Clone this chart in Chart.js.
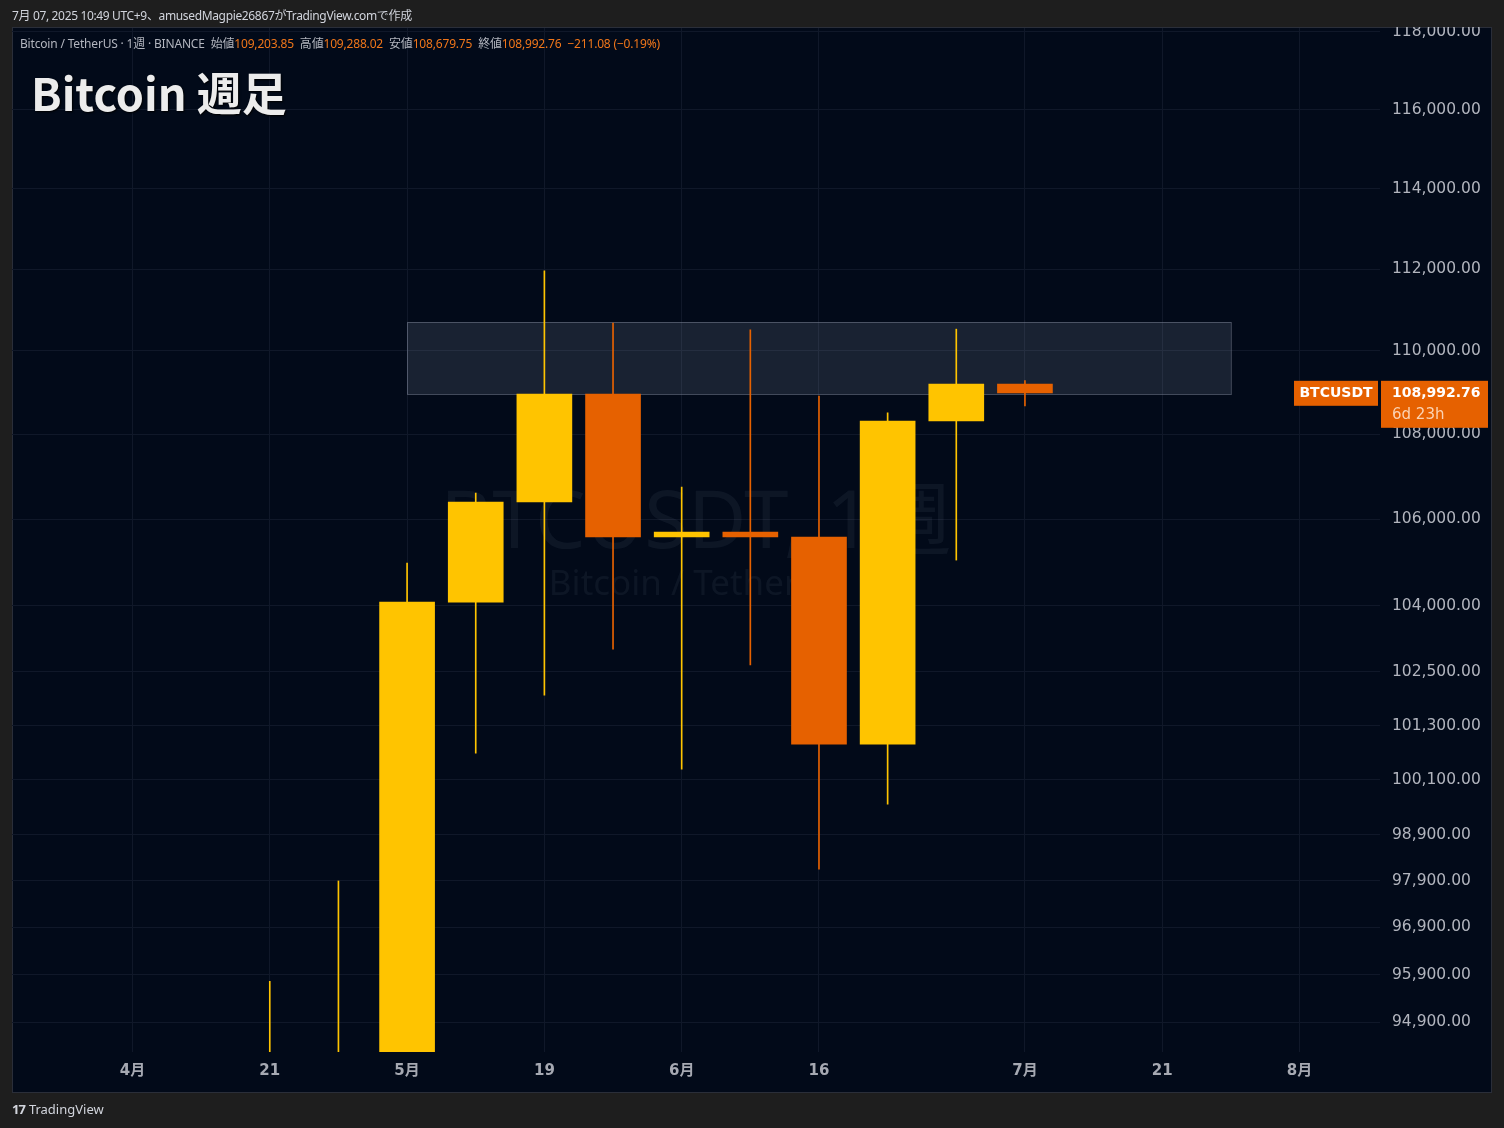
<!DOCTYPE html>
<html>
<head>
<meta charset="utf-8">
<script src="https://cdn.jsdelivr.net/npm/chart.js@4.4.0/dist/chart.umd.min.js"></script>
<style>
body{margin:0;background:#1e1e1e;width:1504px;height:1128px;overflow:hidden;position:relative;font-family:"Noto Sans","Noto Sans CJK JP",sans-serif;}
#chart{position:absolute;left:0;top:0;}
.header{position:absolute;left:12px;top:6px;font-size:12px;color:#d1d4dc;letter-spacing:-0.35px;}
.legend{position:absolute;left:20px;top:34px;font-size:12px;color:#b2b5be;white-space:nowrap;letter-spacing:-0.18px;}
.legend .v{color:#f0761a;margin-right:6px;}
.title{position:absolute;left:31px;top:59px;font-size:45px;font-weight:bold;color:#ececec;text-shadow:1px 1px 2px #000;font-family:"Noto Sans CJK JP","Noto Sans",sans-serif;}
.footer{position:absolute;left:12px;top:1100px;font-size:13px;color:#d1d4dc;}
.footer b{font-size:13px;letter-spacing:-1px;margin-right:4px;}
</style>
</head>
<body>
<canvas id="chart" width="1504" height="1128"></canvas>
<div class="header">7月 07, 2025 10:49 UTC+9、amusedMagpie26867がTradingView.comで作成</div>
<div class="legend">Bitcoin / TetherUS · 1週 · BINANCE&nbsp; 始値<span class="v">109,203.85</span>高値<span class="v">109,288.02</span>安値<span class="v">108,679.75</span>終値<span class="v">108,992.76</span><span class="v">−211.08 (−0.19%)</span></div>
<div class="title">Bitcoin 週足</div>
<div class="footer"><b>17</b>TradingView</div>
<script>
// weekly candles (week start dates)
let weeks  = ['2025-04-21','2025-04-28','2025-05-05','2025-05-12','2025-05-19','2025-05-26','2025-06-02','2025-06-09','2025-06-16','2025-06-23','2025-06-30','2025-07-07'];
let opens  = [85179, 93749, 94240, 104088, 106405, 108963, 105590, 105705, 105590, 100887, 108319, 109203.85];
let highs  = [95758, 97895, 104985, 106616, 111954, 110680, 106756, 110511, 108916, 108515, 110530, 109288.02];
let lows   = [85144, 92800, 93377, 100687, 101980, 103018, 100333, 102657, 98149, 99564, 105055, 108679.75];
let closes = [93749, 94240, 104088, 106405, 108963, 105590, 105705, 105590, 100887, 108319, 109203.85, 108992.76];

// axis labels
let xTickDates  = ['2025-04-07','2025-04-21','2025-05-05','2025-05-19','2025-06-02','2025-06-16','2025-07-07','2025-07-21','2025-08-04'];
let xTickLabels = ['4月','21','5月','19','6月','16','7月','21','8月'];
let yTicks = [94900, 95900, 96900, 97900, 98900, 100100, 101300, 102500, 104000, 106000, 108000, 110000, 112000, 114000, 116000, 118000];

// drawn rectangle (resistance zone)
let zoneStart = '2025-05-05';
let zoneEnd = '2025-07-28';
let zoneTop = 110700;
let zoneBottom = 108960;

let symbol = 'BTCUSDT';
let countdown = '6d 23h';

const UP = '#ffc400';
const DOWN = '#e66100';
const BG = '#020a19';
const GRID = '#101829';

function weekIndex(d){
    return Math.round((new Date(d) - new Date('2025-04-07')) / (7 * 864e5));
}
function fmt(v){
    return v.toLocaleString('en-US', {minimumFractionDigits: 2, maximumFractionDigits: 2});
}

let colors = weeks.map((w, i) => closes[i] >= opens[i] ? UP : DOWN);

let panelPlugin = {
    id: 'panel',
    beforeDraw(chart){
        let ctx = chart.ctx;
        ctx.save();
        ctx.fillStyle = '#1e1e1e';
        ctx.fillRect(0, 0, 1504, 1128);
        ctx.fillStyle = BG;
        ctx.fillRect(12, 28, 1480, 1064);
        ctx.strokeStyle = '#2a2e39';
        ctx.strokeRect(12.5, 27.5, 1479, 1065);
        ctx.restore();
    }
};

let backPlugin = {
    id: 'back',
    beforeDatasetsDraw(chart){
        let ctx = chart.ctx;
        let a = chart.chartArea;
        let x = chart.scales.x, y = chart.scales.y;
        ctx.save();
        let cx = (a.left + a.right) / 2;
        ctx.fillStyle = 'rgba(130,140,170,0.09)';
        ctx.textAlign = 'center';
        ctx.textBaseline = 'middle';
        ctx.font = '80px "Noto Sans","Noto Sans CJK JP"';
        ctx.fillText('BTCUSDT, 1週', cx, 525);
        ctx.font = '35px "Noto Sans"';
        ctx.fillText('Bitcoin / TetherUS', cx, 585);
        // zone box
        let x1 = x.getPixelForValue(weekIndex(zoneStart));
        let x2 = x.getPixelForValue(weekIndex(zoneEnd));
        let y1 = y.getPixelForValue(zoneTop);
        let y2 = y.getPixelForValue(zoneBottom);
        ctx.fillStyle = 'rgba(150,160,185,0.16)';
        ctx.fillRect(x1, y1, x2 - x1, y2 - y1);
        ctx.strokeStyle = 'rgba(120,128,145,0.55)';
        ctx.lineWidth = 1;
        ctx.strokeRect(Math.round(x1) + 0.5, Math.round(y1) + 0.5, x2 - x1, y2 - y1);
        ctx.restore();
    }
};

let pricePlugin = {
    id: 'price',
    afterDraw(chart){
        let ctx = chart.ctx;
        let last = closes[closes.length - 1];
        let py = chart.scales.y.getPixelForValue(last);
        ctx.save();
        // cover label overflow above the panel
        ctx.fillStyle = '#1e1e1e';
        ctx.fillRect(0, 0, 1504, 27);
        ctx.fillStyle = DOWN;
        ctx.fillRect(1294, py - 12, 84, 25);
        ctx.fillRect(1381, py - 12, 107, 47);
        ctx.fillStyle = '#ffffff';
        ctx.textBaseline = 'middle';
        ctx.font = 'bold 14px "DejaVu Sans"';
        ctx.textAlign = 'center';
        ctx.fillText(symbol, 1336, py + 1);
        ctx.textAlign = 'left';
        ctx.fillText(fmt(last), 1392, py + 1);
        ctx.fillStyle = '#fbd3b3';
        ctx.font = '15px "DejaVu Sans"';
        ctx.fillText(countdown, 1392, py + 22);
        ctx.restore();
    }
};

let ctx = document.getElementById('chart').getContext('2d');
new Chart(ctx, {
    type: 'bar',
    data: {
        datasets: [{
            label: 'body',
            data: weeks.map((w, i) => ({x: weekIndex(w), y: [opens[i], closes[i]]})),
            backgroundColor: colors,
            barThickness: 55,
            grouped: false,
            order: 0
        },
        {
            label: 'wick',
            data: weeks.map((w, i) => ({x: weekIndex(w), y: [lows[i], highs[i]]})),
            backgroundColor: colors,
            barThickness: 1,
            grouped: false,
            order: 1
        }]
    },
    options: {
        responsive: false,
        animation: false,
        layout: {padding: {left: 12, top: 28, right: 13, bottom: 36}},
        plugins: {
            legend: {display: false},
            tooltip: {enabled: false}
        },
        scales: {
            x: {
                type: 'linear',
                min: -1.755,
                max: 18.172,
                offset: false,
                border: {display: false},
                grid: {color: GRID, offset: false, drawTicks: false},
                afterBuildTicks: function(scale){
                    scale.ticks = xTickDates.map(d => ({value: weekIndex(d)}));
                },
                afterFit: function(scale){ scale.height = 40; },
                ticks: {
                    autoSkip: false,
                    maxRotation: 0,
                    padding: 10,
                    color: '#a6a9b2',
                    font: {family: '"DejaVu Sans","Noto Sans CJK JP"', size: 15, weight: 'bold'},
                    callback: function(v){
                        let i = xTickDates.findIndex(d => weekIndex(d) === v);
                        return i >= 0 ? xTickLabels[i] : '';
                    }
                }
            },
            y: {
                type: 'logarithmic',
                position: 'right',
                min: 94280,
                max: 118100,
                border: {display: false},
                grid: {color: GRID, drawTicks: false},
                afterBuildTicks: function(scale){
                    scale.ticks = yTicks.map(v => ({value: v}));
                },
                afterFit: function(scale){ scale.width = 111; },
                ticks: {
                    autoSkip: false,
                    padding: 12,
                    color: '#b2b5be',
                    font: {family: '"DejaVu Sans"', size: 15.5},
                    callback: function(v){ return fmt(v); }
                }
            }
        }
    },
    plugins: [panelPlugin, backPlugin, pricePlugin]
});
</script>
</body>
</html>
